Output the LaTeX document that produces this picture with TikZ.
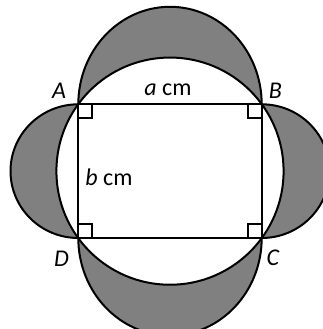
\documentclass[tikz,border=0pt]{standalone}
\usepackage{fontspec}
\setmainfont{Carlito}
\usetikzlibrary{calc}
\begin{document}
\begin{tikzpicture}[x=1pt,y=1pt,
  outline/.style={line width=2pt,draw=black},
  lune/.style={fill={rgb,255:red,128;green,128;blue,128}},
  lbl/.style={font=\fontsize{24}{28}\selectfont\itshape,inner sep=0pt},
  txt/.style={font=\fontsize{24}{28}\selectfont,inner sep=0pt},
  rmark/.style={line width=1.8pt,draw=black}]
\useasboundingbox (0,0) rectangle (323,329);
\clip (0,0) rectangle (323,329);
\coordinate (A) at (78.3,224.7);
\coordinate (B) at (261.7,224.7);
\coordinate (C) at (261.7,91);
\coordinate (D) at (78.3,91);
\coordinate (O) at (170,157.85);
% grey half-ellipses
\fill[lune] (B) arc[start angle=0,end angle=180,x radius=91.7,y radius=97.5] -- cycle;
\fill[lune] (D) arc[start angle=180,end angle=360,x radius=91.7,y radius=97.5] -- cycle;
\fill[lune] (A) arc[start angle=90,end angle=270,x radius=67.8,y radius=66.85] -- cycle;
\fill[lune] (C) arc[start angle=-90,end angle=90,x radius=67.8,y radius=66.85] -- cycle;
% white circle
\fill[white] (O) circle[radius=113.6];
% outlines
\draw[outline] (B) arc[start angle=0,end angle=180,x radius=91.7,y radius=97.5];
\draw[outline] (D) arc[start angle=180,end angle=360,x radius=91.7,y radius=97.5];
\draw[outline] (A) arc[start angle=90,end angle=270,x radius=67.8,y radius=66.85];
\draw[outline] (C) arc[start angle=-90,end angle=90,x radius=67.8,y radius=66.85];
\draw[outline] (O) circle[radius=113.6];
\draw[outline] (A) -- (B) -- (C) -- (D) -- cycle;
% right-angle marks
\draw[rmark] ($(A)+(0,-14)$) -- ++(14,0) -- ++(0,14);
\draw[rmark] ($(B)+(0,-14)$) -- ++(-14,0) -- ++(0,14);
\draw[rmark] ($(C)+(0,14)$) -- ++(-14,0) -- ++(0,-14);
\draw[rmark] ($(D)+(0,14)$) -- ++(14,0) -- ++(0,-14);
% labels
\node[lbl] (lA) at (59,238) {A};
\node[lbl] (lB) at (275.5,238) {B};
\node[lbl] (lC) at (273,71) {C};
\node[lbl] (lD) at (61.5,70) {D};
\node[txt] (la) at (168,239) {\textit{a} cm};
\node[txt] (lb) at (109,152) {\textit{b} cm};
\end{tikzpicture}
\end{document}
